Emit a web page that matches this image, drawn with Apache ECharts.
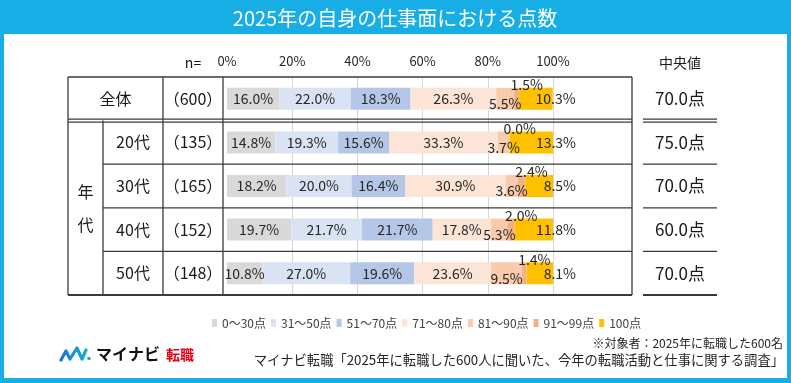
<!DOCTYPE html>
<html><head><meta charset="utf-8">
<script src="https://cdn.jsdelivr.net/npm/echarts@6/dist/echarts.min.js"></script>
<style>html,body{margin:0;padding:0;background:#fff}#c{width:791px;height:383px}</style>
</head><body><div id="c"></div>
<script>
const categories = ['全体', '20代', '30代', '40代', '50代'];
const nValues = ['（600）', '（135）', '（165）', '（152）', '（148）'];
const medians = ['70.0点', '75.0点', '70.0点', '60.0点', '70.0点'];
const seriesNames = ['0～30点', '31～50点', '51～70点', '71～80点', '81～90点', '91～99点', '100点'];
const s0to30   = [16.0, 14.8, 18.2, 19.7, 10.8];
const s31to50  = [22.0, 19.3, 20.0, 21.7, 27.0];
const s51to70  = [18.3, 15.6, 16.4, 21.7, 19.6];
const s71to80  = [26.3, 33.3, 30.9, 17.8, 23.6];
const s81to90  = [5.5, 3.7, 3.6, 5.3, 9.5];
const s91to99  = [1.5, 0.0, 2.4, 2.0, 1.4];
const s100     = [10.3, 13.3, 8.5, 11.8, 8.1];
const xTicks = [0, 20, 40, 60, 80, 100];
const titleText = '2025年の自身の仕事面における点数';
const noteText = '※対象者：2025年に転職した600名';
const sourceText = 'マイナビ転職「2025年に転職した600人に聞いた、今年の転職活動と仕事に関する調査」';

const seriesData = [s0to30, s31to50, s51to70, s71to80, s81to90, s91to99, s100];
const FONT = '"Noto Sans CJK JP","Noto Sans",sans-serif';
const colors = ['#d9d9d9', '#dae3f3', '#b4c7e7', '#fce4d6', '#f8cbad', '#f4b183', '#ffc000'];
const chart = echarts.init(document.getElementById('c'), null, {renderer: 'canvas'});
const fmt = p => p.value.toFixed(1) + '%';
function labelFor(i) {
  const base = {show: true, formatter: fmt, fontSize: 14, color: '#262626', fontFamily: FONT};
  if (i === 4) return Object.assign(base, {position: 'inside', offset: [0, 5]});
  if (i === 5) return Object.assign(base, {position: 'top', distance: 0, offset: [10, 4]});
  if (i === 6) return Object.assign(base, {position: 'insideRight', distance: 0, offset: [23, 0]});
  return Object.assign(base, {position: 'inside'});
}
const option = {
  animation: false,
  textStyle: {fontFamily: FONT},
  grid: {left: 227, right: 238, top: 77, bottom: 88},
  xAxis: {
    type: 'value', min: xTicks[0], max: xTicks[xTicks.length - 1], interval: xTicks[1] - xTicks[0],
    position: 'top',
    axisLine: {show: false}, axisTick: {show: false},
    axisLabel: {formatter: '{value}%', fontSize: 13, color: '#262626', margin: 9},
    splitLine: {show: true, showMinLine: false, lineStyle: {color: '#d6d6d6', width: 1}}
  },
  yAxis: {
    type: 'category', data: categories, inverse: true,
    axisLine: {show: false}, axisTick: {show: false}, axisLabel: {show: false}, splitLine: {show: false}
  },
  legend: {
    data: seriesNames, left: 207, top: 312, icon: 'rect', itemWidth: 5, itemHeight: 8, itemGap: 5,
    textStyle: {fontSize: 12, color: '#404040', fontFamily: FONT}
  },
  series: seriesNames.map((n, i) => ({
    name: n, type: 'bar', stack: 'total', data: seriesData[i], barWidth: 22,
    itemStyle: {color: colors[i]}, label: labelFor(i)
  }))
};
chart.setOption(option);

// table graphics derived from the category scale
const centers = categories.map(c => chart.convertToPixel({yAxisIndex: 0}, c));
const band = centers[1] - centers[0];
const rowTop = i => centers[i] - band / 2;
const tTop = rowTop(0), tBot = centers[4] + band / 2;
const L = 68, C1 = 103, C2 = 163, C3 = 223, R = 632, M1 = 643, M2 = 717;
const LC = '#3a3a3a';
const g = [];
g.push({type: 'rect', z: -100, shape: {x: 0, y: 0, width: 791, height: 383}, style: {fill: '#17aee6'}});
g.push({type: 'rect', z: -99, shape: {x: 4, y: 34, width: 783, height: 344}, style: {fill: '#ffffff'}});
g.push({type: 'text', z: 10, style: {text: titleText, x: 395, y: 18, align: 'center', verticalAlign: 'middle', fontSize: 20, fontFamily: FONT, fill: '#ffffff'}});
function line(x1, y1, x2, y2, w) {
  g.push({type: 'line', z: 50, shape: {x1, y1, x2, y2}, style: {stroke: LC, lineWidth: w || 1.3}});
}
// outer box
line(L, tTop, R, tTop); line(L, tBot, R, tBot, 1.8);
line(L, tTop, L, tBot); line(R, tTop, R, tBot);
line(C1, rowTop(1), C1, tBot); line(C2, tTop, C2, tBot); line(C3, tTop, C3, tBot);
// double line under first row
const d = rowTop(1);
line(L, d - 1.5, R, d - 1.5); line(L, d + 1.5, R, d + 1.5);
line(M1, d - 1.5, M2, d - 1.5); line(M1, d + 1.5, M2, d + 1.5);
for (let i = 2; i < 5; i++) { line(C1, rowTop(i), R, rowTop(i)); line(M1, rowTop(i), M2, rowTop(i)); }
line(M1, tBot, M2, tBot, 1.8);
function txt(t, x, y, size, opts) {
  g.push({type: 'text', z: 60, style: Object.assign({text: t, x, y, align: 'center', verticalAlign: 'middle', fontSize: size, fontFamily: FONT, fill: '#1a1a1a'}, opts || {})});
}
txt('n=', (C2 + C3) / 2, 63, 14);
txt('中央値', (M1 + M2) / 2, 63, 14);
categories.forEach((c, i) => {
  const cx = i === 0 ? (L + C2) / 2 : (C1 + C2) / 2;
  txt(c, cx, centers[i], 16);
  txt(nValues[i], (C2 + C3) / 2, centers[i], 16);
  txt(medians[i], (M1 + M2) / 2, centers[i], 17);
});
const mid = (rowTop(1) + tBot) / 2;
txt('年', (L + C1) / 2, mid - 16, 16);
txt('代', (L + C1) / 2, mid + 17, 16);
// footnotes
txt(noteText, 783, 343, 12, {align: 'right', fill: '#262626'});
txt(sourceText, 784, 360, 13.3, {align: 'right', fill: '#262626'});
// logo
g.push({type: 'polyline', z: 60, shape: {points: [[61, 360], [66, 351], [70, 359], [77, 348], [82, 359], [86, 350]]},
  style: {stroke: new echarts.graphic.LinearGradient(0, 0, 1, 0, [{offset: 0, color: '#1e6fd9'}, {offset: 1, color: '#14b3c8'}]), lineWidth: 3.2, lineJoin: 'round', lineCap: 'round', fill: null}});
g.push({type: 'circle', z: 60, shape: {cx: 89, cy: 358.5, r: 1.8}, style: {fill: '#14b3c8'}});
txt('マイナビ', 96, 354, 16, {align: 'left', fontWeight: 'bold', fill: '#111'});
txt('転職', 166, 355, 14, {align: 'left', fontWeight: 'bold', fill: '#e60012'});
chart.setOption({graphic: {elements: g}});
</script>
</body></html>
